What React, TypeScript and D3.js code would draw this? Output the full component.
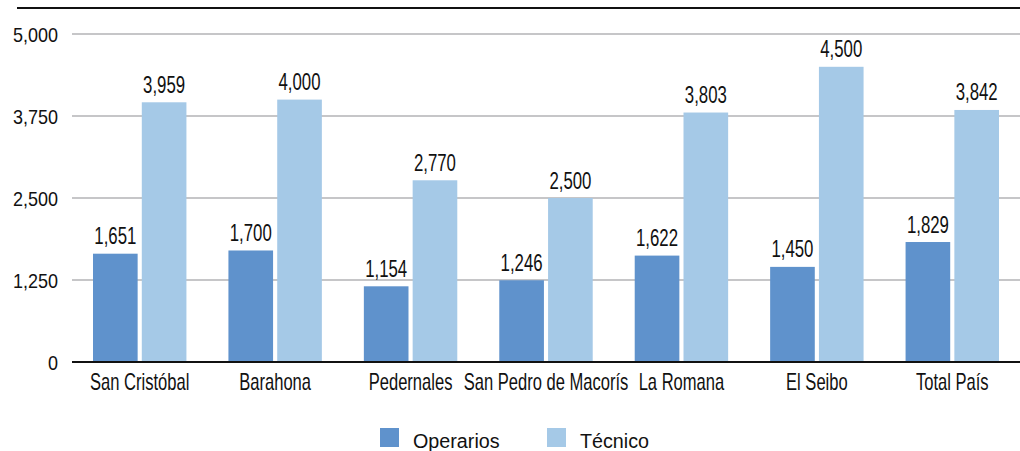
import React, { useEffect, useRef } from 'react';
import * as d3 from 'd3';

const categories = ['San Cristóbal', 'Barahona', 'Pedernales', 'San Pedro de Macorís', 'La Romana', 'El Seibo', 'Total País'];
const operarios = [1651, 1700, 1154, 1246, 1622, 1450, 1829];
const tecnico = [3959, 4000, 2770, 2500, 3803, 4500, 3842];
const yTicks = [0, 1250, 2500, 3750, 5000];
const seriesNames = ['Operarios', 'Técnico'];
const seriesColors = ['#5f92cc', '#a5c9e7'];

// condensed look: Liberation Sans squeezed horizontally
const FONT = '"Liberation Sans", Arial, sans-serif';

const App: React.FC = () => {
  const svgRef = useRef<SVGSVGElement>(null);

  useEffect(() => {
    if (!svgRef.current) return;
    const width = 1020;
    const height = 451;
    const svg = d3.select(svgRef.current);
    svg.selectAll('*').remove();

    const margin = { left: 72, right: 0, top: 34, bottom: 89 };
    const fmt = d3.format(',');

    const x = d3.scaleBand<string>()
      .domain(categories)
      .range([margin.left, width - margin.right]);

    const inner = d3.scaleBand<string>()
      .domain(seriesNames)
      .range([21, x.bandwidth() - 21])
      .paddingInner(0.085);

    const y = d3.scaleLinear().domain([0, 5000]).range([height - margin.bottom, margin.top]);

    // top rule
    svg.append('line')
      .attr('x1', 17).attr('x2', width)
      .attr('y1', 8).attr('y2', 8)
      .attr('stroke', '#111').attr('stroke-width', 2);

    // grid
    svg.append('g').selectAll('line')
      .data(yTicks.filter(t => t > 0))
      .join('line')
      .attr('x1', margin.left).attr('x2', width)
      .attr('y1', d => y(d)).attr('y2', d => y(d))
      .attr('stroke', '#b3b3b6').attr('stroke-width', 1.5);

    svg.append('g').selectAll('text')
      .data(yTicks)
      .join('text')
      .attr('transform', d => `translate(58,${y(d) + 7.5}) scale(0.9,1)`)
      .attr('text-anchor', 'end')
      .style('font-family', FONT)
      .style('font-size', '20px')
      .style('fill', '#111')
      .text(d => fmt(d));

    const data = categories.map((c, i) => ({ c, vals: [operarios[i], tecnico[i]] }));

    const groups = svg.append('g').selectAll('g')
      .data(data)
      .join('g')
      .attr('transform', d => `translate(${x(d.c)},0)`);

    groups.selectAll('rect')
      .data(d => d.vals.map((v, j) => ({ v, s: seriesNames[j], j })))
      .join('rect')
      .attr('x', d => inner(d.s)!)
      .attr('width', inner.bandwidth())
      .attr('y', d => y(d.v))
      .attr('height', d => y(0) - y(d.v))
      .attr('fill', d => seriesColors[d.j]);

    groups.selectAll('text.val')
      .data(d => d.vals.map((v, j) => ({ v, s: seriesNames[j], j })))
      .join('text')
      .attr('class', 'val')
      .attr('transform', d => `translate(${inner(d.s)! + inner.bandwidth() / 2},${y(d.v) - 9.5}) scale(0.73,1)`)
      .attr('text-anchor', 'middle')
      .style('font-family', FONT)
      .style('font-size', '23px')
      .style('fill', '#111')
      .text(d => fmt(d.v));

    // baseline
    svg.append('line')
      .attr('x1', margin.left).attr('x2', width)
      .attr('y1', y(0)).attr('y2', y(0))
      .attr('stroke', '#111').attr('stroke-width', 2);

    svg.append('g').selectAll('text')
      .data(categories)
      .join('text')
      .attr('transform', d => `translate(${x(d)! + x.bandwidth() / 2},390) scale(0.72,1)`)
      .attr('text-anchor', 'middle')
      .style('font-family', FONT)
      .style('font-size', '23px')
      .style('fill', '#111')
      .text(d => d);

    // legend
    const legendX = [380, 547];
    const legend = svg.append('g').selectAll('g')
      .data(seriesNames)
      .join('g')
      .attr('transform', (d, i) => `translate(${legendX[i]},428)`);

    legend.append('rect')
      .attr('width', 19).attr('height', 19)
      .attr('fill', (d, i) => seriesColors[i]);

    legend.append('text')
      .attr('transform', 'translate(33,20) scale(0.94,1)')
      .style('font-family', FONT)
      .style('font-size', '21px')
      .style('fill', '#111')
      .text(d => d);
  }, []);

  return (
    <div style={{ position: 'fixed', left: 0, top: 0, width: 1020, height: 451, background: '#fff', overflow: 'hidden' }}>
      <svg ref={svgRef} width={1020} height={451} style={{ display: 'block' }} />
    </div>
  );
};

export default App;
